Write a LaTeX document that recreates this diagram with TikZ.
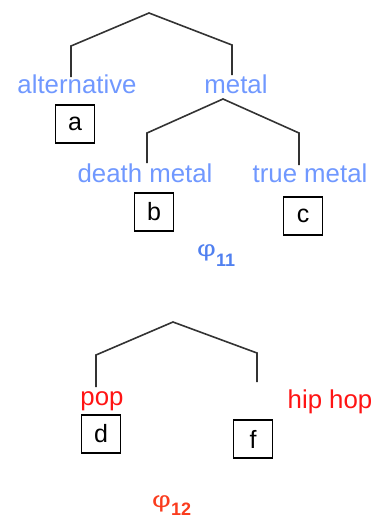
\documentclass[tikz,border=0pt]{standalone}
\usepackage{fontspec}
\setmainfont{Liberation Sans}
\definecolor{lblue}{RGB}{112,152,255}
\definecolor{phiblue}{RGB}{80,128,240}
\definecolor{lred}{RGB}{255,20,20}
\definecolor{phired}{RGB}{250,60,30}
\begin{document}
\begin{tikzpicture}[x=1pt,y=-1pt,
  lab/.style={font=\fontsize{25.8}{26}\selectfont, inner sep=0, anchor=base},
  bluelab/.style={lab, text=lblue},
  redlab/.style={lab, text=lred},
  philab/.style={font=\fontsize{20}{20}\selectfont, inner sep=0, anchor=base west},
  letterbox/.style={draw, line width=1.3pt, minimum width=39pt, minimum height=38pt, inner sep=0, font=\fontsize{25}{25}\selectfont},
  branch/.style={line width=1.6pt, draw=black!80, line join=miter}]
\useasboundingbox (0,0) rectangle (380,520);
% top tree
\node[bluelab] (alt) at (77,93) {alternative};
\node[bluelab] (metal) at (236,93) {metal};
\node[letterbox] (a) at (75,124) {a};
\coordinate (r1) at (149,13);
\coordinate (s1l) at (71,46);
\coordinate (e1l) at (71,77);
\coordinate (s1r) at (232,45);
\coordinate (e1r) at (232,75);
\draw[branch] (e1l) -- (s1l) -- (r1) -- (s1r) -- (e1r);
% metal subtree
\node[bluelab] (death) at (145,182) {death metal};
\node[bluelab] (true) at (310,182) {true metal};
\node[letterbox] (b) at (154,212) {b};
\node[letterbox] (c) at (303,216) {c};
\coordinate (r2) at (223,99);
\coordinate (s2l) at (147,133);
\coordinate (e2l) at (147,163);
\coordinate (s2r) at (299,133);
\coordinate (e2r) at (299,165);
\draw[branch] (e2l) -- (s2l) -- (r2) -- (s2r) -- (e2r);
\node[philab, text=phiblue] (phi11) at (197,256) {\scalebox{1.45}[1.1]{φ}\raisebox{-10pt}{\fontsize{18}{18}\selectfont\bfseries 11}};
% bottom tree
\node[redlab] (pop) at (102,405) {pop};
\node[redlab] (hiphop) at (330,408) {hip hop};
\node[letterbox] (d) at (101,434) {d};
\node[letterbox] (f) at (253,439) {f};
\coordinate (r3) at (173,322);
\coordinate (s3l) at (96,355);
\coordinate (e3l) at (96,387);
\coordinate (s3r) at (257,353);
\coordinate (e3r) at (257,382);
\draw[branch] (e3l) -- (s3l) -- (r3) -- (s3r) -- (e3r);
\node[philab, text=phired] (phi12) at (152,507) {\scalebox{1.45}[1.1]{φ}\raisebox{-8pt}{\fontsize{18}{18}\selectfont\bfseries 12}};
\end{tikzpicture}
\end{document}
